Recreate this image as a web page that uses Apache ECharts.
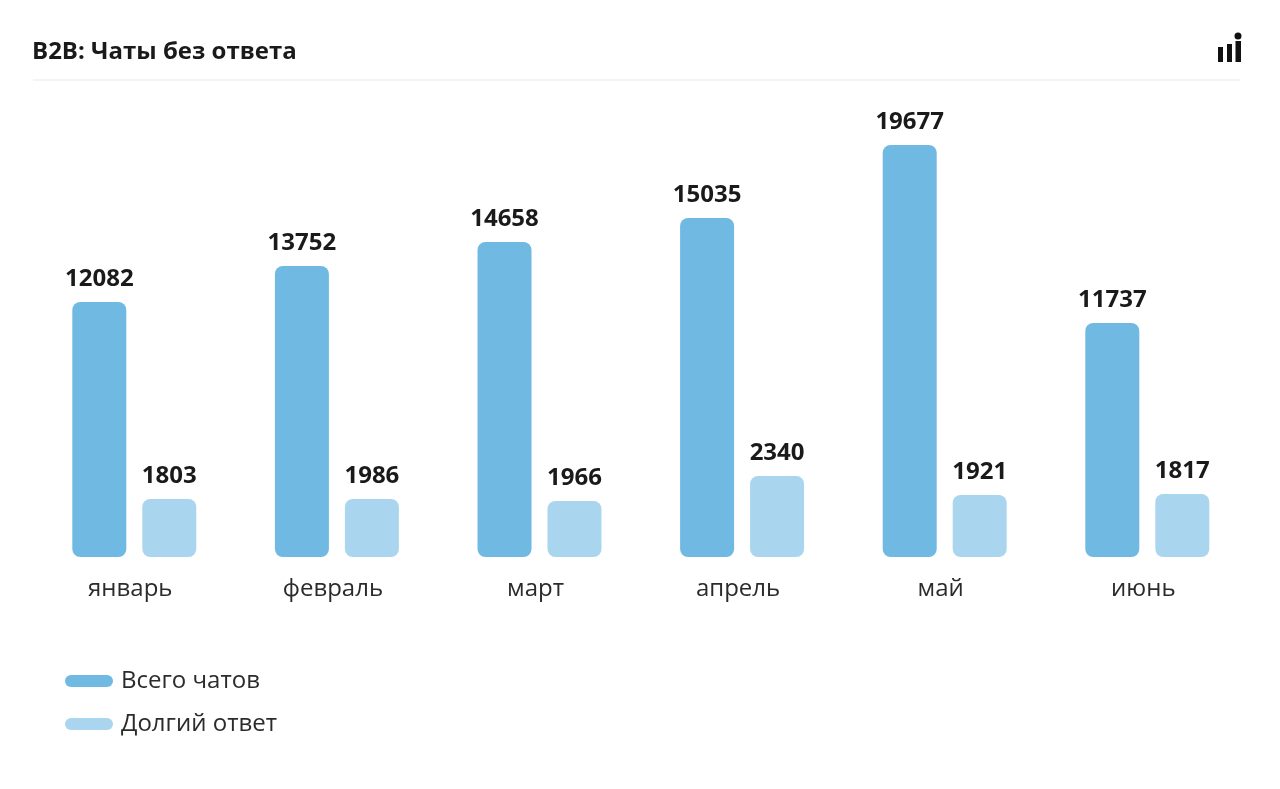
<!DOCTYPE html>
<html>
<head>
<meta charset="utf-8">
<style>
html,body{margin:0;padding:0;background:#fff}
#chart{width:1280px;height:789px}
</style>
<script src="https://cdn.jsdelivr.net/npm/echarts@6/dist/echarts.min.js"></script>
</head>
<body>
<div id="chart"></div>
<script>
var months = ['январь', 'февраль', 'март', 'апрель', 'май', 'июнь']
var seriesNames = ['Всего чатов', 'Долгий ответ']

// numbers printed above the bars
var totalLabels = [12082, 13752, 14658, 15035, 19677, 11737]
var longLabels = [1803, 1986, 1966, 2340, 1921, 1817]

// the bars in the picture are not to scale with their printed numbers,
// so their lengths are read separately, in the units of May's bar
var totalBars = [12179, 13898, 15044, 16190, 19677, 11176]
var longBars = [2770, 2770, 2675, 3868, 2961, 3009]

var yMax = 20000
var font = '"Open Sans", sans-serif'
var dark = '#1a1a1a'
var text = '#2b2b2b'
var blue = '#6fb9e2'
var lightBlue = '#a9d6ee'
var pill = 'path://M6 0H42A6 6 0 0 1 42 12H6A6 6 0 0 1 6 0Z'

function barLabel(list) {
	return {
		show: true,
		position: 'top',
		distance: 11,
		fontFamily: font,
		fontSize: 24,
		fontWeight: 'bold',
		color: dark,
		formatter: function (p) {
			return list[p.dataIndex]
		}
	}
}

var myChart = echarts.init(document.getElementById('chart'), null, {renderer: 'canvas'})
var option = {
	backgroundColor: '#fff',
	animation: false,
	title: {
		text: 'B2B: Чаты без ответа',
		left: 32,
		top: 40,
		padding: 0,
		textStyle: {
			fontFamily: font,
			fontSize: 24,
			fontWeight: 'bold',
			color: dark
		}
	},
	grid: {
		left: 33,
		top: 138.25,
		width: 1215.6,
		height: 418.75
	},
	legend: {
		orient: 'vertical',
		left: 65,
		top: 669,
		padding: 0,
		itemWidth: 48,
		itemHeight: 12,
		itemGap: 19,
		data: [
			{name: seriesNames[0], icon: pill},
			{name: seriesNames[1], icon: pill}
		],
		textStyle: {
			fontFamily: font,
			fontSize: 24,
			color: text,
			padding: [0, 0, 0, 3]
		}
	},
	xAxis: {
		type: 'category',
		data: months,
		axisLine: {show: false},
		axisTick: {show: false},
		axisLabel: {
			fontFamily: font,
			fontSize: 24,
			color: text,
			margin: 20,
			padding: [0, 8, 0, 0]
		}
	},
	yAxis: {
		type: 'value',
		min: 0,
		max: yMax,
		show: false
	},
	series: [
		{
			name: seriesNames[0],
			type: 'bar',
			data: totalBars,
			barWidth: 54,
			barGap: '29.6%',
			itemStyle: {color: blue, borderRadius: 8},
			label: barLabel(totalLabels)
		},
		{
			name: seriesNames[1],
			type: 'bar',
			data: longBars,
			barWidth: 54,
			itemStyle: {color: lightBlue, borderRadius: 8},
			label: barLabel(longLabels)
		}
	],
	graphic: [
		{type: 'line', shape: {x1: 33, y1: 80, x2: 1240, y2: 80}, style: {stroke: '#e9e9e9', lineWidth: 1}},
		{type: 'rect', shape: {x: 1218, y: 47, width: 5, height: 15}, style: {fill: '#111'}},
		{type: 'rect', shape: {x: 1227, y: 44, width: 5, height: 18}, style: {fill: '#111'}},
		{type: 'rect', shape: {x: 1235.5, y: 41, width: 5.5, height: 21}, style: {fill: '#111'}},
		{type: 'circle', shape: {cx: 1238, cy: 36, r: 3.5}, style: {fill: '#111'}}
	]
}
myChart.setOption(option)
</script>
</body>
</html>
